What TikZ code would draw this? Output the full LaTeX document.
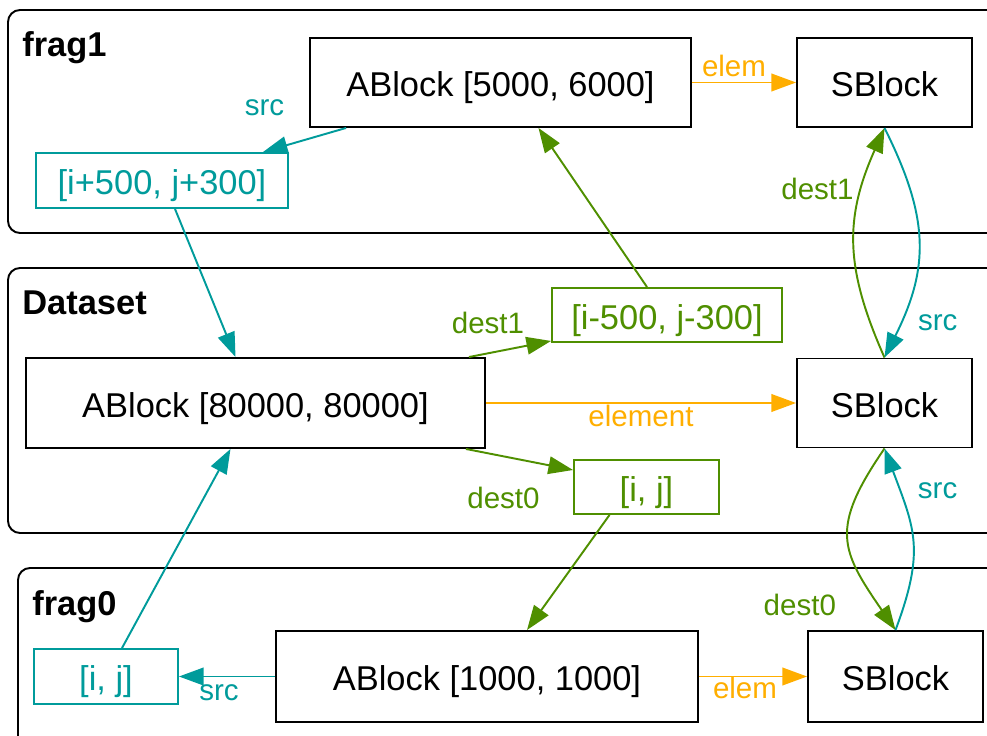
\documentclass[tikz,border=0pt]{standalone}
\usepackage{fontspec}
\setmainfont{Liberation Sans}
\usepackage{tikz}
\usetikzlibrary{arrows.meta,calc}
\definecolor{srcteal}{RGB}{0,155,155}
\definecolor{destgreen}{RGB}{79,143,0}
\definecolor{elemorange}{RGB}{255,174,0}
\newcommand{\BoxFont}{\fontsize{19.6}{23}\selectfont}
\newcommand{\LblFont}{\fontsize{16.8}{20}\selectfont}

\begin{document}
\begin{tikzpicture}[x=0.02cm, y=-0.02cm,
    block/.style={draw, line width=1.1pt, minimum height=1.78cm, font=\BoxFont, text height=16pt, text depth=0pt},
    idx/.style={draw, line width=1.1pt, minimum height=1.08cm, font=\BoxFont, text height=16pt, text depth=0pt},
    fragbox/.style={draw, line width=1.1pt, rounded corners=0.24cm},
    fragname/.style={anchor=base west, font=\BoxFont\bfseries, inner sep=0pt},
    lbl/.style={font=\LblFont, inner sep=0pt},
    arrowln/.style={line width=1.1pt, -{Triangle[length=14pt, width=10pt]}},
    srcln/.style={arrowln, srcteal},
    destln/.style={arrowln, destgreen},
    elemln/.style={arrowln, elemorange}]
    \useasboundingbox (0,0) rectangle (987,736);
    \clip (0,0) rectangle (987,736);

    % the three fragment frames
    \draw[fragbox] (8,10) rectangle (1010,233);
    \draw[fragbox] (8,268) rectangle (1010,533);
    \draw[fragbox] (18,568) rectangle (1010,760);
    \path (22,57) node (T1) [fragname] {frag1};
    \path (22,315) node (TD) [fragname] {Dataset};
    \path (32,615) node (T0) [fragname] {frag0};

    % blocks of frag1
    \path (500.5,82.5) node (A1) [block, minimum width=7.62cm] {ABlock [5000, 6000]};
    \path (884.5,82.5) node (S1) [block, minimum width=3.5cm] {SBlock};
    \path (162,180.5) node (I1) [idx, srcteal, minimum width=5.04cm, minimum height=1.1cm] {[i+500, j+300]};

    % blocks of the dataset
    \path (255.5,403) node (AD) [block, minimum width=9.18cm, minimum height=1.8cm] {ABlock [80000, 80000]};
    \path (667,315) node (ID1) [idx, destgreen, minimum width=4.6cm] {[i-500, j-300]};
    \path (884.5,403) node (SD) [block, minimum width=3.5cm] {SBlock};
    \path (646.5,487) node (ID0) [idx, destgreen, minimum width=2.9cm] {[i, j]};

    % blocks of frag0
    \path (106,676.5) node (I0) [idx, srcteal, minimum width=2.88cm, minimum height=1.1cm] {[i, j]};
    \path (487,676.5) node (A0) [block, minimum width=8.44cm, minimum height=1.82cm] {ABlock [1000, 1000]};
    \path (895.5,676.5) node (S0) [block, minimum width=3.5cm, minimum height=1.82cm] {SBlock};

    % frag1 links
    \draw[srcln] ($(A1.south west)+(37,0)$) -- node[lbl, xshift=-0.8cm, yshift=0.64cm] {src} ($(I1.north east)+(-26,0)$);
    \draw[elemln] (A1) -- node[lbl, xshift=-0.2cm, yshift=0.34cm] {elem} (S1);
    \draw[srcln] ($(I1.south)+(13,0)$) -- ($(AD.north)+(-20,0)$);
    \draw[destln] ($(ID1.north)+(-20,0)$) -- ($(A1.south)+(38,0)$);

    % dataset links
    \draw[destln] ($(AD.north east)+(-17,0)$) -- node[lbl, xshift=-0.44cm, yshift=0.52cm] {dest1} ($(ID1.south west)+(0,-2)$);
    \draw[elemln] (AD) -- node[lbl, yshift=-0.26cm] {element} (SD);
    \draw[destln] ($(AD.south east)+(-20,0)$) -- node[lbl, xshift=-0.32cm, yshift=-0.76cm] {dest0} ($(ID0.west)+(0,-17)$);
    \draw[destln] ($(ID0.south)+(-37,0)$) -- ($(A0.north)+(40,0)$);
    \draw[srcln] ($(I0.north)+(16,0)$) -- ($(AD.south)+(-25,0)$);

    % frag0 links
    \draw[srcln] (A0) -- node[lbl, xshift=-0.16cm, yshift=-0.32cm] {src} (I0);
    \draw[elemln] (A0) -- node[lbl, xshift=-0.16cm, yshift=-0.22cm] {elem} (S0);

    % SBlock loops
    \draw[destln] (SD.north) .. controls +(-40,-90) and +(-40,90) .. node[lbl, pos=0.75, xshift=-0.89cm] {dest1} (S1.south);
    \draw[srcln] (S1.south) .. controls +(45,90) and +(45,-90) .. node[lbl, pos=0.85, xshift=0.72cm, yshift=-0.06cm] {src} (SD.north);
    \draw[destln] (SD.south) .. controls +(-55,80) and +(-55,-80) .. node[lbl, pos=0.85, xshift=-1.48cm, yshift=-0.14cm] {dest0} (S0.north);
    \draw[srcln] (S0.north) .. controls +(30,-80) and +(30,80) .. node[lbl, pos=0.85, xshift=0.82cm, yshift=-0.2cm] {src} (SD.south);
\end{tikzpicture}
\end{document}
